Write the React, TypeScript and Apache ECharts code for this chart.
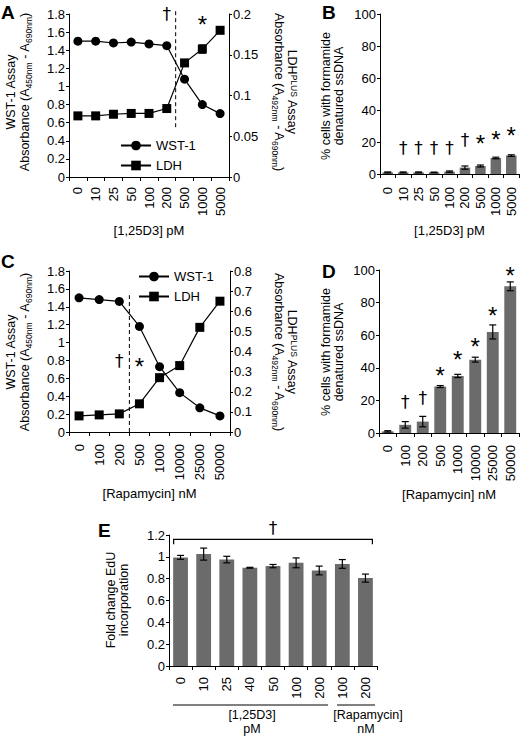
import React, { useEffect, useRef } from 'react';
import * as echarts from 'echarts';

const FONT = '"Liberation Sans", Arial, Helvetica, sans-serif';
const DAG_FONT = '"DejaVu Sans", "Liberation Sans", sans-serif';

// Panel A
const dosesA = ['0', '10', '25', '50', '100', '200', '500', '1000', '5000'];
const wstA = [1.5, 1.5, 1.48, 1.49, 1.47, 1.45, 1.08, 0.8, 0.7];
const ldhA = [0.075, 0.075, 0.077, 0.078, 0.078, 0.084, 0.14, 0.157, 0.18];
const ldhAErr = [0.001, 0.001, 0.001, 0.001, 0.001, 0.001, 0.002, 0.005, 0.002];
const annAIdx = [4.5, 6.7];
const annAVal = [1.805, 1.74];
const annASym = ['†', '*'];

// Panel B
const dosesB = ['0', '10', '25', '50', '100', '200', '500', '1000', '5000'];
const pctB = [1, 1, 1, 1, 1.5, 4, 5, 10, 11.5];
const errB = [0.3, 0.3, 0.3, 0.2, 0.4, 1, 0.6, 0.5, 0.5];
const annBVal = [0, 16.5, 16.5, 16.5, 16.5, 21, 22.5, 25, 27];
const annBSym = ['', '†', '†', '†', '†', '†', '*', '*', '*'];

// Panel C
const dosesC = ['0', '100', '200', '500', '1000', '10000', '25000', '50000'];
const wstC = [1.5, 1.48, 1.46, 1.18, 0.73, 0.44, 0.27, 0.18];
const ldhC = [0.08, 0.085, 0.09, 0.14, 0.27, 0.33, 0.52, 0.65];
const annCIdx = [1.9, 3.1];
const annCVal = [0.79, 0.79];
const annCSym = ['†', '*'];

// Panel D
const dosesD = ['0', '100', '200', '500', '1000', '10000', '25000', '50000'];
const pctD = [1, 5, 7, 28.5, 35, 45, 62, 90];
const errD = [0.4, 2, 3.2, 0.6, 1, 1.5, 4.3, 2.7];
const annDVal = [0, 19, 21.5, 38.6, 48, 56, 75, 100];
const annDSym = ['', '†', '†', '*', '*', '*', '*', '*'];

// Panel E
const dosesE = ['0', '10', '25', '40', '50', '100', '200', '100', '200'];
const foldE = [0.995, 1.025, 0.975, 0.9, 0.915, 0.945, 0.875, 0.935, 0.805];
const errE = [0.018, 0.055, 0.03, 0.004, 0.015, 0.045, 0.04, 0.04, 0.037];

const BAR = '#6b6b6b';

function errorBarRender(_p: any, api: any) {
  const x = api.value(0);
  const y = api.value(1);
  const e = api.value(2);
  const hi = api.coord([x, y + e]);
  const lo = api.coord([x, y - e]);
  const hw = 3.5;
  const st = { stroke: '#000', lineWidth: 1.2 };
  return {
    type: 'group',
    children: [
      { type: 'line', shape: { x1: hi[0], y1: hi[1], x2: lo[0], y2: lo[1] }, style: st },
      { type: 'line', shape: { x1: hi[0] - hw, y1: hi[1], x2: hi[0] + hw, y2: hi[1] }, style: st },
      { type: 'line', shape: { x1: lo[0] - hw, y1: lo[1], x2: lo[0] + hw, y2: lo[1] }, style: st },
    ],
  };
}

function symText(s: string, x: number, y: number) {
  const star = s === '*';
  return {
    type: 'text',
    x,
    y: y + (star ? 5 : 0),
    style: {
      text: s,
      align: 'center',
      verticalAlign: 'middle',
      fontSize: star ? 24 : 17,
      fontFamily: star ? FONT : DAG_FONT,
      fill: '#000',
    },
  };
}

function makeAnn(syms: string[]) {
  return (params: any, api: any) => {
    const s = syms[params.dataIndex];
    if (!s) return null;
    const p = api.coord([api.value(0), api.value(1)]);
    return symText(s, p[0], p[1]);
  };
}

function dashRender(_p: any, api: any) {
  const x = api.value(0);
  const a = api.coord([x, api.value(1)]);
  const b = api.coord([x, api.value(2)]);
  const bw = api.size([1, 0])[0];
  const px = a[0] + bw / 2;
  return {
    type: 'line',
    shape: { x1: px, y1: a[1], x2: px, y2: b[1] },
    style: { stroke: '#000', lineWidth: 1, lineDash: [4, 3] },
  };
}

function bracketRender(_p: any, api: any) {
  const a = api.coord([api.value(0), api.value(1)]);
  const b = api.coord([api.value(2), api.value(1)]);
  const bw = api.size([1, 0])[0];
  const x1 = a[0] - bw * 0.3;
  const x2 = b[0] + bw * 0.3;
  return {
    type: 'group',
    children: [
      {
        type: 'polyline',
        shape: { points: [[x1, a[1] + 5], [x1, a[1]], [x2, a[1]], [x2, a[1] + 5]] },
        style: { stroke: '#000', lineWidth: 1.2, fill: null },
      },
      symText('†', (x1 + x2) / 2, a[1] - 11),
    ],
  };
}

const lbl = { fontSize: 13, color: '#000', fontFamily: FONT };

function yAx(grid: number, min: number, max: number, interval: number, pos = 'left') {
  return {
    type: 'value',
    gridIndex: grid,
    min,
    max,
    interval,
    position: pos,
    axisLine: { show: true, lineStyle: { color: '#000', width: 1 } },
    axisTick: { show: true, length: 3, lineStyle: { color: '#000' } },
    axisLabel: { ...lbl, margin: 4 },
    splitLine: { show: false },
  };
}

function xAx(grid: number, data: string[], name: string, nameGap: number, margin: number) {
  return {
    type: 'category',
    gridIndex: grid,
    data,
    name,
    nameLocation: 'middle',
    nameGap,
    nameTextStyle: { ...lbl },
    axisLine: { onZero: false, lineStyle: { color: '#000', width: 1 } },
    axisTick: { show: true, length: 4, alignWithLabel: false, lineStyle: { color: '#000' } },
    axisLabel: { ...lbl, rotate: 90, margin, interval: 0 },
    splitLine: { show: false },
  };
}

const rich = {
  n: { fontSize: 12.5, fontFamily: FONT, fill: '#000', verticalAlign: 'top', padding: [0, 0, 2, 0] },
  s: { fontSize: 8.5, fontFamily: FONT, fill: '#000', verticalAlign: 'bottom' },
  p: { fontSize: 8.5, fontFamily: FONT, fill: '#000', verticalAlign: 'top' },
};

function vText(text: string, x: number, y: number, rot: number) {
  return {
    type: 'text',
    x,
    y,
    rotation: rot,
    style: { text, align: 'center', verticalAlign: 'middle', rich, fontFamily: FONT, fontSize: 12.5, fill: '#000' },
  };
}

function letter(t: string, x: number, y: number) {
  return {
    type: 'text',
    x,
    y,
    style: { text: t, fontSize: 19, fontWeight: 'bold', fontFamily: FONT, fill: '#000', align: 'left', verticalAlign: 'top' },
  };
}

function plainText(t: string, x: number, y: number) {
  return {
    type: 'text',
    x,
    y,
    style: { text: t, fontSize: 12.5, fontFamily: FONT, fill: '#000', align: 'center', verticalAlign: 'middle' },
  };
}

const absLeft = '{n|Absorbance (A}{s|450nm}{n| - A}{s|690nm}{n|)}';
const absRight = '{n|Absorbance (A}{s|492nm}{n| - A}{s|690nm}{n|)}';
const ldhTitle = '{n|LDH}{p|PLUS}{n| Assay}';
const wstTitle = '{n|WST-1 Assay}';

export default function App() {
  const ref = useRef<HTMLDivElement>(null);
  useEffect(() => {
    if (!ref.current) return;
    const chart = echarts.init(ref.current, null, { renderer: 'svg' });
    const lineStyle = { color: '#000', width: 1.2 };
    const option: any = {
      animation: false,
      backgroundColor: '#fff',
      textStyle: { fontFamily: FONT },
      grid: [
        { left: 69, top: 14, width: 160, height: 163 },
        { left: 380, top: 14, width: 139, height: 160 },
        { left: 69, top: 271, width: 161, height: 161 },
        { left: 379, top: 270, width: 140, height: 163 },
        { left: 169, top: 535, width: 208, height: 131 },
      ],
      xAxis: [
        xAx(0, dosesA, '[1,25D3] pM', 46.5, 10),
        xAx(1, dosesB, '[1,25D3] pM', 49.5, 13),
        xAx(2, dosesC, '[Rapamycin] nM', 54.5, 12),
        xAx(3, dosesD, '[Rapamycin] nM', 54.5, 12),
        xAx(4, dosesE, '', 0, 11),
      ],
      yAxis: [
        yAx(0, 0, 1.8, 0.2),
        yAx(0, 0, 0.2, 0.05, 'right'),
        yAx(1, 0, 100, 20),
        yAx(2, 0, 1.8, 0.2),
        yAx(2, 0, 0.8, 0.1, 'right'),
        yAx(3, 0, 100, 20),
        yAx(4, 0, 1.2, 0.2),
      ],
      legend: [
        {
          left: 115,
          top: 134,
          orient: 'vertical',
          itemWidth: 30,
          itemHeight: 12,
          itemGap: 7,
          textStyle: { ...lbl },
          data: ['WST-1', 'LDH'],
        },
        {
          left: 133,
          top: 265,
          orient: 'vertical',
          itemWidth: 30,
          itemHeight: 12,
          itemGap: 7,
          textStyle: { ...lbl },
          data: ['WST-1', 'LDH'],
        },
      ],
      series: [
        // A
        {
          name: 'WST-1', type: 'line', xAxisIndex: 0, yAxisIndex: 0, data: wstA,
          symbol: 'circle', symbolSize: 9, itemStyle: { color: '#000' }, lineStyle,
        },
        {
          name: 'LDH', type: 'line', xAxisIndex: 0, yAxisIndex: 1, data: ldhA,
          symbol: 'rect', symbolSize: 9, itemStyle: { color: '#000' }, lineStyle,
        },
        {
          type: 'custom', xAxisIndex: 0, yAxisIndex: 1, renderItem: errorBarRender,
          data: ldhA.map((v, i) => [i, v, ldhAErr[i]]), z: 1,
        },
        {
          type: 'custom', xAxisIndex: 0, yAxisIndex: 0, renderItem: dashRender,
          data: [[5, 0.55, 1.85]], z: 1,
        },
        {
          type: 'custom', xAxisIndex: 0, yAxisIndex: 0, renderItem: makeAnn(annASym),
          data: annAIdx.map((x, i) => [x, annAVal[i]]), z: 5,
        },
        // B
        {
          type: 'bar', xAxisIndex: 1, yAxisIndex: 2, data: pctB, barWidth: '68%',
          itemStyle: { color: BAR },
        },
        {
          type: 'custom', xAxisIndex: 1, yAxisIndex: 2, renderItem: errorBarRender,
          data: pctB.map((v, i) => [i, v, errB[i]]), z: 5,
        },
        {
          type: 'custom', xAxisIndex: 1, yAxisIndex: 2, renderItem: makeAnn(annBSym),
          data: annBVal.map((v, i) => [i, v]), z: 5,
        },
        // C
        {
          name: 'WST-1', type: 'line', xAxisIndex: 2, yAxisIndex: 3, data: wstC,
          symbol: 'circle', symbolSize: 9, itemStyle: { color: '#000' }, lineStyle,
        },
        {
          name: 'LDH', type: 'line', xAxisIndex: 2, yAxisIndex: 4, data: ldhC,
          symbol: 'rect', symbolSize: 9, itemStyle: { color: '#000' }, lineStyle,
        },
        {
          type: 'custom', xAxisIndex: 2, yAxisIndex: 3, renderItem: dashRender,
          data: [[2, 0, 1.53]], z: 1,
        },
        {
          type: 'custom', xAxisIndex: 2, yAxisIndex: 3, renderItem: makeAnn(annCSym),
          data: annCIdx.map((x, i) => [x, annCVal[i]]), z: 5,
        },
        // D
        {
          type: 'bar', xAxisIndex: 3, yAxisIndex: 5, data: pctD, barWidth: '68%',
          itemStyle: { color: BAR },
        },
        {
          type: 'custom', xAxisIndex: 3, yAxisIndex: 5, renderItem: errorBarRender,
          data: pctD.map((v, i) => [i, v, errD[i]]), z: 5,
        },
        {
          type: 'custom', xAxisIndex: 3, yAxisIndex: 5, renderItem: makeAnn(annDSym),
          data: annDVal.map((v, i) => [i, v]), z: 5,
        },
        // E
        {
          type: 'bar', xAxisIndex: 4, yAxisIndex: 6, data: foldE, barWidth: '64%',
          itemStyle: { color: BAR },
        },
        {
          type: 'custom', xAxisIndex: 4, yAxisIndex: 6, renderItem: errorBarRender,
          data: foldE.map((v, i) => [i, v, errE[i]]), z: 5,
        },
        {
          type: 'custom', xAxisIndex: 4, yAxisIndex: 6, renderItem: bracketRender,
          data: [[0, 1.16, 8]], z: 5,
        },
      ],
      graphic: [
        letter('A', 1, 3),
        letter('B', 322, 3),
        letter('C', 1, 252),
        letter('D', 322, 262),
        letter('E', 98, 521),
        vText(wstTitle, 12, 92, Math.PI / 2),
        vText(absLeft, 26, 92, Math.PI / 2),
        vText(ldhTitle, 291, 92, -Math.PI / 2),
        vText(absRight, 278, 92, -Math.PI / 2),
        vText(wstTitle, 12, 352, Math.PI / 2),
        vText(absLeft, 26, 352, Math.PI / 2),
        vText(ldhTitle, 291, 352, -Math.PI / 2),
        vText(absRight, 278, 352, -Math.PI / 2),
        vText('{n|% cells with formamide}', 327, 96, Math.PI / 2),
        vText('{n|denatured ssDNA}', 340, 96, Math.PI / 2),
        vText('{n|% cells with formamide}', 327, 352, Math.PI / 2),
        vText('{n|denatured ssDNA}', 340, 352, Math.PI / 2),
        vText('{n|Fold change EdU}', 112, 600, Math.PI / 2),
        vText('{n|incorporation}', 125, 600, Math.PI / 2),
        {
          type: 'line',
          shape: { x1: 173, y1: 705, x2: 328, y2: 705 },
          style: { stroke: '#000', lineWidth: 1 },
        },
        {
          type: 'line',
          shape: { x1: 337, y1: 705, x2: 375, y2: 705 },
          style: { stroke: '#000', lineWidth: 1 },
        },
        plainText('[1,25D3]', 252, 715),
        plainText('pM', 252, 729),
        plainText('[Rapamycin]', 368, 715),
        plainText('nM', 366, 729),
      ],
    };
    chart.setOption(option);
    return () => chart.dispose();
  }, []);
  return (
    <div
      ref={ref}
      style={{ position: 'absolute', left: 0, top: 0, width: 520, height: 736, background: '#fff' }}
    />
  );
}
